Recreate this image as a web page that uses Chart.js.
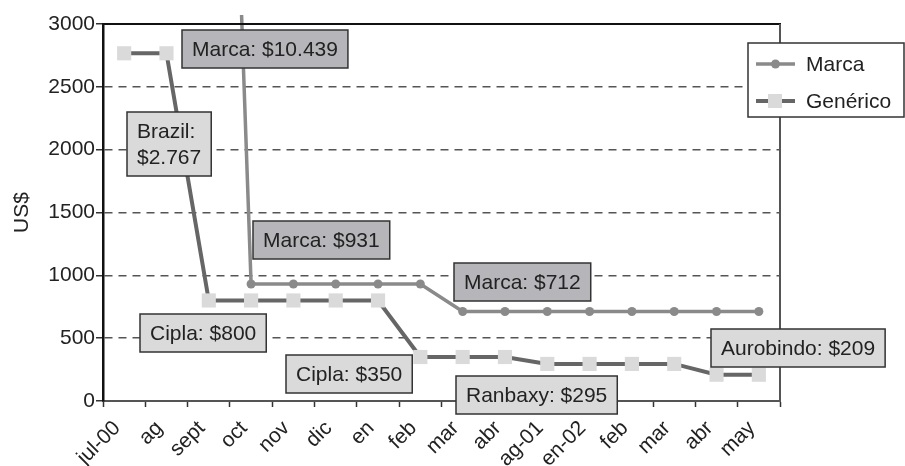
<!DOCTYPE html>
<html><head><meta charset="utf-8">
<script src="https://cdn.jsdelivr.net/npm/chart.js@4"></script>
<style>html,body{margin:0;padding:0;background:#fff}#wrap{width:905px;height:466px}</style>
</head><body><div id="wrap"><canvas id="c" width="905" height="466"></canvas></div>
<script>
const categories = ['jul-00','ag','sept','oct','nov','dic','en','feb','mar','abr','ag-01','en-02','feb','mar','abr','may'];
const marcaValues = [null,null,10439,931,931,931,931,931,712,712,712,712,712,712,712,712];
const genericoValues = [2767,2767,800,800,800,800,800,350,350,350,295,295,295,295,209,209];
const seriesNames = ['Marca','Genérico'];
const yMin = 0, yMax = 3000, yStep = 500;
const yTitle = 'US$';

const FONT = '"Liberation Sans", Arial, Helvetica, sans-serif';
const TEXT = '#222';
const DARK = '#b6b6ba';
const LIGHT = '#dadada';

// annotation callouts: text + anchor in data space (category index, value)
const callouts = [
  {lines:['Marca: $10.439'], at:[3.33, 2805], fill:DARK},
  {lines:['Brazil:','$2.767'], at:[1.07, 2045], fill:LIGHT},
  {lines:['Marca: $931'], at:[4.65, 1281], fill:DARK},
  {lines:['Marca: $712'], at:[9.42, 947], fill:DARK},
  {lines:['Cipla: $800'], at:[1.86, 545], fill:LIGHT},
  {lines:['Cipla: $350'], at:[5.31, 215], fill:LIGHT},
  {lines:['Ranbaxy: $295'], at:[9.76, 44], fill:LIGHT},
  {lines:['Aurobindo: $209'], at:[15.92, 418], fill:LIGHT}
];

const framePlugin = {
  id:'frame',
  afterDatasetsDraw(chart){
    const {ctx, chartArea:a} = chart;
    ctx.save();
    ctx.lineCap = 'butt';
    ctx.strokeStyle = '#111'; ctx.lineWidth = 2;
    ctx.beginPath(); ctx.moveTo(a.left, a.top); ctx.lineTo(a.right+1, a.top); ctx.stroke();
    ctx.strokeStyle = '#555'; ctx.lineWidth = 2;
    ctx.beginPath(); ctx.moveTo(a.right, a.top); ctx.lineTo(a.right, a.bottom); ctx.stroke();
    ctx.restore();
  },
  afterDraw(chart){
    const {ctx} = chart;
    const xs = chart.scales.x, ys = chart.scales.y;
    ctx.save();
    ctx.font = '21px ' + FONT;
    const padX = 10, padY = 6, lineH = 26;
    callouts.forEach(c => {
      const cx = xs.getPixelForValue(c.at[0]);
      const cy = ys.getPixelForValue(c.at[1]);
      const tw = Math.max(...c.lines.map(l => ctx.measureText(l).width));
      const w = tw + 2*padX, h = c.lines.length*lineH + 2*padY;
      const x0 = Math.round(cx - w/2), y0 = Math.round(cy - h/2);
      ctx.fillStyle = c.fill;
      ctx.fillRect(x0, y0, w, h);
      ctx.strokeStyle = '#333'; ctx.lineWidth = 1.5;
      ctx.strokeRect(x0, y0, w, h);
      ctx.fillStyle = TEXT; ctx.textAlign = 'left'; ctx.textBaseline = 'middle';
      c.lines.forEach((l, i) => ctx.fillText(l, x0 + padX, y0 + padY + lineH*(i+0.5) + 1));
    });
    // legend
    const lx = 748, ly = 43, lw = 156, lh = 74;
    ctx.fillStyle = '#fff'; ctx.fillRect(lx, ly, lw, lh);
    ctx.strokeStyle = '#333'; ctx.lineWidth = 1.5; ctx.strokeRect(lx, ly, lw, lh);
    chart.data.datasets.forEach((ds, i) => {
      const y = ly + 21 + i*37;
      ctx.strokeStyle = ds.borderColor; ctx.lineWidth = ds.borderWidth;
      ctx.beginPath(); ctx.moveTo(756, y); ctx.lineTo(795, y); ctx.stroke();
      ctx.fillStyle = ds.pointBackgroundColor;
      if (ds.pointStyle === 'rect') { ctx.fillRect(768, y-7, 14, 14); }
      else { ctx.beginPath(); ctx.arc(775.5, y, ds.pointRadius, 0, Math.PI*2); ctx.fill(); }
      ctx.fillStyle = TEXT; ctx.textAlign='left'; ctx.textBaseline='middle';
      ctx.fillText(ds.label, 806, y + 1);
    });
    ctx.restore();
  }
};

new Chart(document.getElementById('c'), {
  type:'line',
  data:{
    labels: categories,
    datasets:[
      {label:seriesNames[0], data:marcaValues, borderColor:'#8a8a8a', borderWidth:3.5, pointRadius:4.5,
       pointBackgroundColor:'#8a8a8a', pointBorderWidth:0, pointStyle:'circle', tension:0, spanGaps:false,
       clip:{left:5, top:9, right:5, bottom:5}},
      {label:seriesNames[1], data:genericoValues, borderColor:'#666', borderWidth:4, pointRadius:10,
       pointBackgroundColor:'#dadada', pointBorderWidth:0, pointStyle:'rect', tension:0}
    ]
  },
  options:{
    responsive:false, animation:false, devicePixelRatio:1,
    layout:{padding:{left:0, right:125, top:24, bottom:0}},
    plugins:{legend:{display:false}, tooltip:{enabled:false}},
    scales:{
      x:{
        offset:true,
        grid:{offset:true, drawOnChartArea:false, drawTicks:true, tickLength:6, tickColor:'#333', tickWidth:1.5},
        border:{color:'#555', width:2},
        ticks:{autoSkip:false, minRotation:45, maxRotation:45, color:TEXT, font:{family:FONT, size:21}, padding:9, labelOffset:-7},
        afterFit(s){ s.height = 65; }
      },
      y:{
        min:yMin, max:yMax,
        ticks:{stepSize:yStep, color:TEXT, font:{family:FONT, size:21}, padding:1, callback:v => String(v)},
        grid:{color:ctx => (ctx.tick && (ctx.tick.value === yMin || ctx.tick.value === yMax)) ? 'rgba(0,0,0,0)' : '#555',
              lineWidth:1.5, tickLength:7, tickColor:'#333', tickWidth:1.5},
        border:{color:'#111', width:2.5, dash:[8,6]},
        title:{display:true, text:yTitle, color:TEXT, font:{family:FONT, size:21}, padding:{top:10, bottom:0}},
        afterFit(s){ s.width = 103; }
      }
    }
  },
  plugins:[framePlugin]
});
</script></body></html>
